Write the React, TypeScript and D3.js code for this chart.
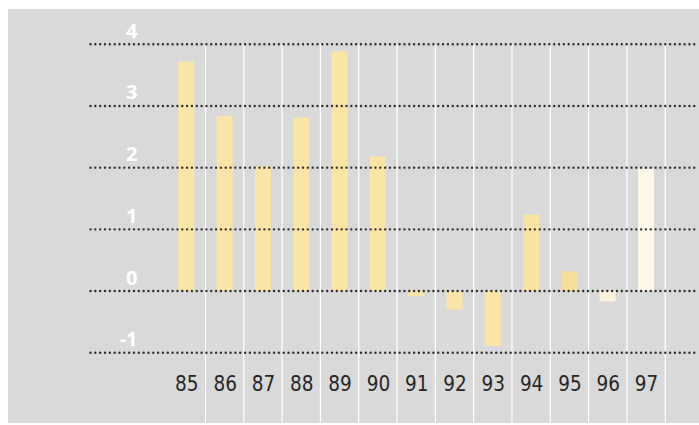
import React from "react";
import * as d3 from "d3";

const categories = ["85", "86", "87", "88", "89", "90", "91", "92", "93", "94", "95", "96", "97"];
const values = [3.72, 2.84, 2.02, 2.81, 3.89, 2.18, -0.08, -0.3, -0.89, 1.24, 0.32, -0.17, 1.98];
const barColors = [
  "#fae4a6", "#fae4a6", "#fae4a6", "#fae4a6", "#fae4a6", "#fae4a6",
  "#fae4a6", "#fae4a6", "#fae4a6", "#f9e2a2", "#f7dc9a", "#fcf3dc", "#fdf8e8",
];
const yTicks = [4, 3, 2, 1, 0, -1];

const W = 699;
const H = 425;
const panel = { x: 8, y: 9, w: 691, h: 414 };
const gridLeft = 90.5;

export default function App() {
  const x = d3.scaleBand<string>().domain(categories).range([167.2, 665.2]).padding(0);
  const y = d3.scaleLinear().domain([-1, 4]).range([352.7, 44.3]);
  const step = x.step();
  const barW = 16;

  return (
    <svg width={W} height={H} style={{ position: "absolute", left: 0, top: 0, display: "block" }}>
      <rect x={0} y={0} width={W} height={H} fill="#ffffff" />
      <rect x={panel.x} y={panel.y} width={panel.w} height={panel.h} fill="#d9d9d9" />

      {categories.map((c) => {
        const xx = (x(c) as number) + step;
        return (
          <line key={"v" + c} x1={xx} x2={xx} y1={y(4)} y2={panel.y + panel.h} stroke="#ffffff" strokeWidth={1.2} />
        );
      })}

      {categories.map((c, i) => {
        const cx = (x(c) as number) + step / 2;
        const v = values[i];
        const y0 = y(0);
        const yv = y(v);
        return (
          <rect
            key={"b" + c}
            x={cx - barW / 2}
            y={Math.min(y0, yv)}
            width={barW}
            height={Math.abs(yv - y0)}
            fill={barColors[i]}
          />
        );
      })}

      {yTicks.map((t) => (
        <line
          key={"g" + t}
          x1={gridLeft}
          x2={W}
          y1={y(t)}
          y2={y(t)}
          stroke="#2e2e2e"
          strokeWidth={2.4}
          strokeDasharray="0 4.83"
          strokeLinecap="round"
        />
      ))}

      {yTicks.map((t) => (
        <text
          key={"t" + t}
          x={137.5}
          y={y(t) - 6.5}
          textAnchor="end"
          fill="#ffffff"
          fontFamily="'Open Sans', 'Noto Sans', sans-serif"
          fontWeight={700}
          fontSize={20}
        >
          {t}
        </text>
      ))}

      {categories.map((c) => (
        <text
          key={"x" + c}
          x={(x(c) as number) + step / 2 + 0.5}
          y={390.5}
          textAnchor="middle"
          fill="#262626"
          fontFamily="'Liberation Sans Narrow', 'DejaVu Sans Condensed', 'Noto Sans', sans-serif"
          fontSize={20.5}
          style={{ fontStretch: "condensed" }}
        >
          {c}
        </text>
      ))}
    </svg>
  );
}
